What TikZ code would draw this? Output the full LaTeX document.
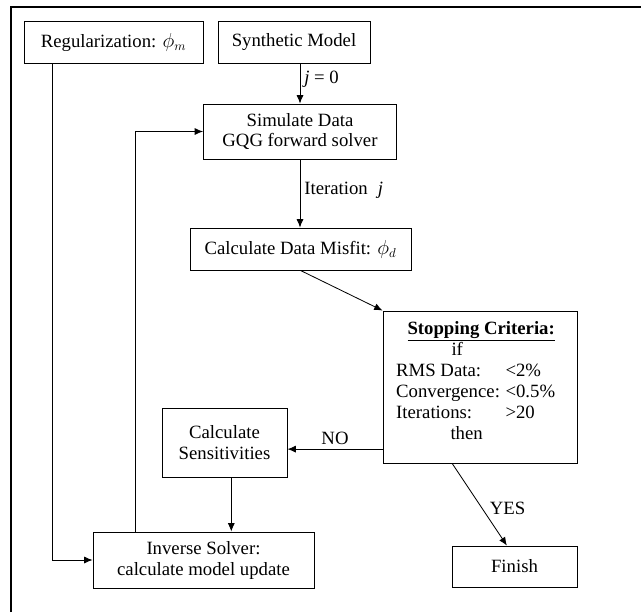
\documentclass[tikz,border=0pt]{standalone}
\usepackage{fontspec}
\setmainfont{Liberation Serif}
\usetikzlibrary{arrows.meta}
\begin{document}
\begin{tikzpicture}[x=0.3mm, y=-0.3mm, >={Latex[length=2.5mm,width=2.1mm]}, font=\fontsize{16}{17.9}\selectfont,
	box/.style={draw, line width=0.8pt, inner sep=0pt, align=center},
	link/.style={->, line width=0.7pt}]
	\useasboundingbox (0,0) rectangle (641,612);
	\draw[line width=1.4pt] (11,612) -- (11,7) -- (641,7);
	\node[box, minimum width=53.7mm, minimum height=12.6mm] (reg) at (113.5,42) {Regularization: $\phi_m$};
	\node[box, minimum width=45.6mm, minimum height=12.6mm] (synth) at (294,42) {Synthetic Model};
	\node[box, minimum width=57.9mm, minimum height=16.5mm] (sim) at (300,131.5) {Simulate Data\\GQG forward solver};
	\node[box, minimum width=66.3mm, minimum height=12.6mm] (misfit) at (300.5,249) {Calculate Data Misfit: $\phi_d$};
	\node[box, minimum width=58.2mm, minimum height=45.6mm] (stop) at (480,387) {\begin{tabular}{@{}p{32.8mm}@{}l@{\hspace{2.6mm}}}
			\multicolumn{2}{@{}l@{}}{\hspace*{3.4mm}\underline{\textbf{Stopping Criteria:}}}\\
			\multicolumn{2}{@{}l@{}}{\hspace*{16.6mm}if}\\
			RMS Data: & <2\%\\
			Convergence: & <0.5\%\\
			Iterations: & >20\\
			\multicolumn{2}{@{}l@{}}{\hspace*{16.3mm}then\rule[-4.3mm]{0pt}{4.3mm}}
		\end{tabular}};
	\node[box, minimum width=37.5mm, minimum height=20.7mm] (sens) at (224.5,442.5) {Calculate\\Sensitivities};
	\node[box, minimum width=66.3mm, minimum height=16.8mm] (inv) at (203.5,560) {Inverse Solver:\\calculate model update};
	\node[box, minimum width=37.5mm, minimum height=12.3mm] (fin) at (514.5,566.5) {Finish};
	\coordinate (loop) at (135,131.5);
	\coordinate (side) at (52,560);
	\draw[link] (synth.south -| sim.north) -- node[right, pos=0.4] (jzero) {\textit{j} = 0} (sim.north);
	\draw[link] (sim.south) -- node[right, pos=0.45] (iter) {Iteration\hspace{3mm}\textit{j}} (sim.south |- misfit.north);
	\draw[link] (misfit.south) -- (stop.north west);
	\draw[link] (stop.west |- sens.-6) -- node[above] (no) {NO} (sens.-6);
	\draw[link] (sens.-79) -- (sens.-79 |- inv.north);
	\draw[link] (stop.-110) -- node[right, pos=0.55, xshift=1mm] (yes) {YES} (fin.110);
	\draw[link] (inv.north -| loop) -- (loop) -- (sim.west);
	\draw[link] (reg.south -| side) -- (side) -- (inv.west);
\end{tikzpicture}
\end{document}
